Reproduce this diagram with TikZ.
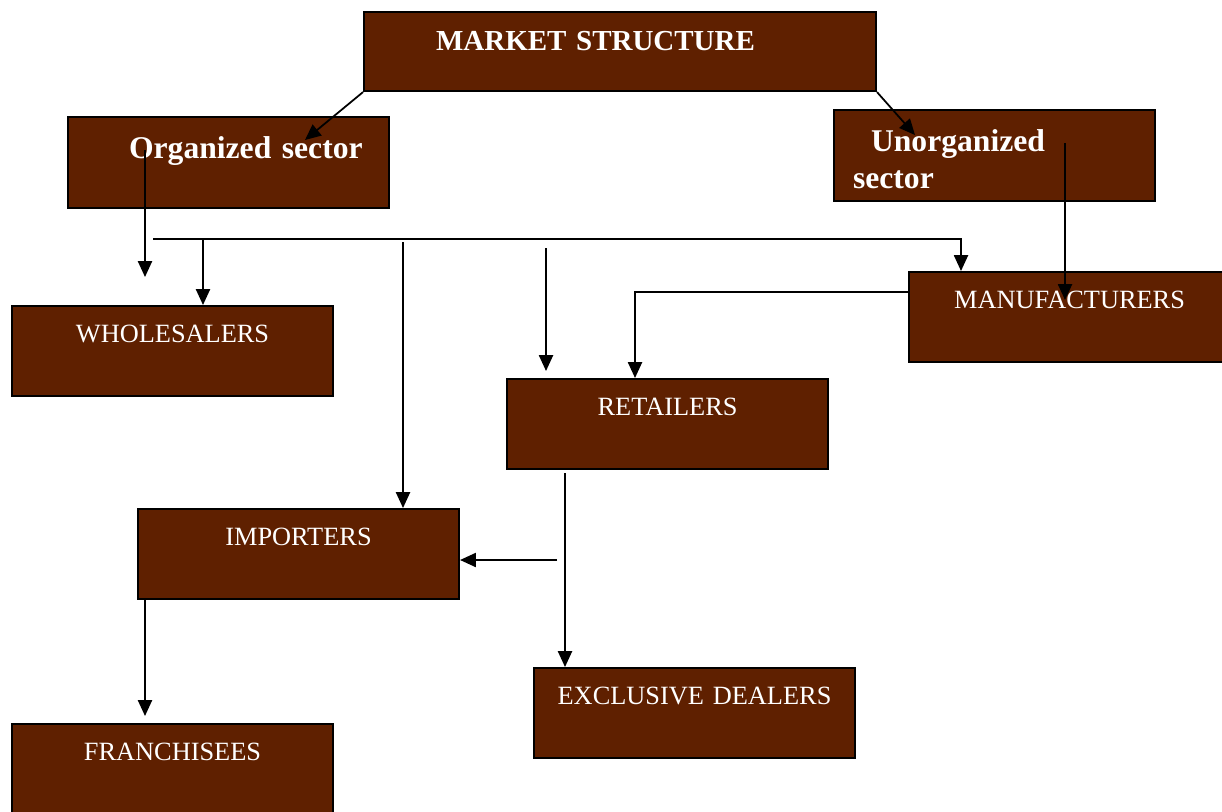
\documentclass[tikz,border=0pt]{standalone}
\usepackage{fontspec}
\setmainfont{Liberation Serif}
\usetikzlibrary{arrows.meta}
\definecolor{boxbrown}{RGB}{95,32,0}

\begin{document}
\begin{tikzpicture}[x=0.02cm, y=-0.02cm, >={Triangle[length=9pt,width=8pt]}]
	\tikzstyle{unit}=[draw=black, line width=1.2pt, fill=boxbrown, text=white, inner sep=0pt, anchor=north west, text width=6.42cm, text height=0.72cm, text depth=1.08cm, align=center, font=\fontsize{15}{18}\selectfont]
	\tikzstyle{sector}=[unit, align=left, text height=0.82cm, text depth=1.0cm, font=\fontsize{18}{21.6}\selectfont\bfseries]
	\tikzstyle{link}=[line width=1pt, ->]

	\clip (0,0) rectangle (1222,811);

	\node[sector, text width=10.24cm, text height=0.76cm, text depth=0.82cm, font=\fontsize{16.5}{20}\selectfont\bfseries] (ms) at (363,11) {\hspace*{1.44cm}MARKET STRUCTURE};
	\node[sector] (org) at (67,116) {\hspace*{1.22cm}Organized sector};
	\node[sector] (unorg) at (833,109) {\hspace*{0.74cm}Unorganized\\\hspace*{0.38cm}sector};

	\node[unit] (whole) at (11,305) {WHOLESALERS};
	\node[unit] (manu) at (908,271) {MANUFACTURERS};
	\node[unit] (retail) at (506,378) {RETAILERS};
	\node[unit] (import) at (137,508) {IMPORTERS};
	\node[unit] (excl) at (533,667) {EXCLUSIVE DEALERS};
	\node[unit] (fran) at (11,723) {FRANCHISEES};

	\coordinate (orgin) at (305,140);
	\coordinate (unorgin) at (915,135);
	\coordinate (orgsrc) at (145,150);
	\coordinate (orgend) at (145,277);
	\coordinate (busl) at (153,239);
	\coordinate (mtop) at (961,271);
	\coordinate (wbranch) at (203,239);
	\coordinate (ibranch) at (403,242);
	\coordinate (rbranch) at (546,248);
	\coordinate (rend) at (546,371);
	\coordinate (usrc) at (1065,143);
	\coordinate (uend) at (1065,300);
	\coordinate (msrc) at (908,292);
	\coordinate (rtop) at (635,378);
	\coordinate (esrc) at (565,473);
	\coordinate (isrc) at (557,560);
	\coordinate (fsrc) at (145,598);
	\coordinate (fend) at (145,716);

	\draw[link] (ms.south west) -- (orgin);
	\draw[link] (ms.south east) -- (unorgin);
	\draw[link] (orgsrc) -- (orgend);
	\draw[link] (busl) -| (mtop);
	\draw[link] (wbranch) -- (wbranch |- whole.north);
	\draw[link] (ibranch) -- (ibranch |- import.north);
	\draw[link] (rbranch) -- (rend);
	\draw[link] (usrc) -- (uend);
	\draw[link] (msrc) -| (rtop);
	\draw[link] (esrc) -- (esrc |- excl.north);
	\draw[link] (isrc) -- (isrc -| import.east);
	\draw[link] (fsrc) -- (fend);
\end{tikzpicture}
\end{document}
